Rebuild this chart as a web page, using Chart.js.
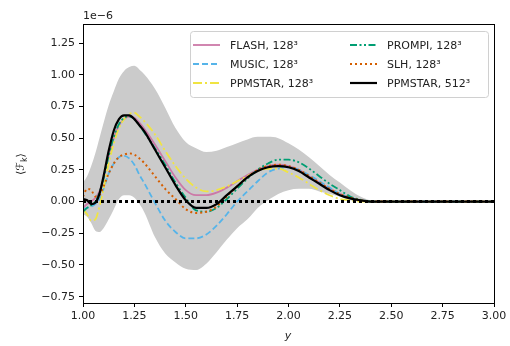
<!DOCTYPE html>
<html>
<head>
<meta charset="utf-8">
<script src="https://cdn.jsdelivr.net/npm/chart.js@4.4.0/dist/chart.umd.min.js"></script>
<style>
  html, body { margin: 0; padding: 0; background: #fff; }
</style>
</head>
<body>
<canvas id="chart" width="510" height="346"></canvas>
<script>
// values in units of 1e-6
const xVals = [1.00, 1.02, 1.04, 1.06, 1.08, 1.10, 1.125, 1.15, 1.175, 1.20, 1.225, 1.25, 1.275, 1.30,
  1.35, 1.40, 1.45, 1.50, 1.55, 1.60, 1.65, 1.70, 1.75, 1.80, 1.85, 1.90, 1.95, 2.00, 2.05, 2.10,
  2.15, 2.20, 2.25, 2.30, 2.35, 2.40, 2.50, 2.75, 3.00];

const flash128 = [-0.05, -0.02, 0.00, 0.03, 0.08, 0.18, 0.36, 0.50, 0.60, 0.65, 0.67, 0.66, 0.62, 0.57,
  0.45, 0.32, 0.19, 0.09, 0.05, 0.05, 0.07, 0.11, 0.16, 0.21, 0.25, 0.28, 0.29, 0.28, 0.25, 0.20,
  0.15, 0.10, 0.06, 0.03, 0.01, 0, 0, 0, 0];
const music128 = [-0.06, -0.05, -0.04, -0.02, 0.02, 0.10, 0.22, 0.30, 0.35, 0.36, 0.34, 0.29, 0.21, 0.14,
  -0.01, -0.15, -0.24, -0.29, -0.29, -0.26, -0.19, -0.10, 0.00, 0.08, 0.16, 0.23, 0.26, 0.27, 0.25, 0.21,
  0.16, 0.11, 0.06, 0.03, 0.01, 0, 0, 0, 0];
const ppmstar128 = [-0.06, -0.10, -0.15, -0.14, -0.04, 0.10, 0.30, 0.46, 0.58, 0.65, 0.69, 0.70, 0.67, 0.63,
  0.53, 0.40, 0.28, 0.18, 0.11, 0.08, 0.09, 0.12, 0.16, 0.20, 0.24, 0.26, 0.26, 0.23, 0.19, 0.14,
  0.09, 0.05, 0.02, 0.01, 0, 0, 0, 0, 0];
const prompi128 = [-0.08, -0.05, -0.03, 0.00, 0.07, 0.18, 0.36, 0.51, 0.61, 0.66, 0.67, 0.65, 0.60, 0.54,
  0.42, 0.29, 0.15, 0.03, -0.07, -0.08, -0.05, 0.02, 0.10, 0.18, 0.25, 0.30, 0.33, 0.33, 0.31, 0.26,
  0.20, 0.14, 0.09, 0.04, 0.015, 0, 0, 0, 0];
const slh128 = [0.04, 0.10, 0.09, 0.04, 0.05, 0.12, 0.22, 0.30, 0.35, 0.37, 0.38, 0.37, 0.34, 0.30,
  0.20, 0.10, 0.02, -0.06, -0.09, -0.08, -0.04, 0.04, 0.12, 0.19, 0.25, 0.28, 0.29, 0.28, 0.25, 0.20,
  0.15, 0.10, 0.06, 0.03, 0.01, 0, 0, 0, 0];
const ppmstar512 = [0.02, 0.01, -0.02, -0.01, 0.06, 0.20, 0.40, 0.56, 0.65, 0.68, 0.68, 0.65, 0.60, 0.55,
  0.41, 0.27, 0.13, 0.01, -0.05, -0.05, -0.02, 0.05, 0.12, 0.19, 0.24, 0.27, 0.28, 0.27, 0.24, 0.19,
  0.14, 0.09, 0.05, 0.025, 0.01, 0, 0, 0, 0];
const bandUpper = [0.15, 0.20, 0.28, 0.38, 0.50, 0.62, 0.76, 0.87, 0.97, 1.03, 1.06, 1.07, 1.04, 1.00,
  0.89, 0.74, 0.58, 0.47, 0.42, 0.39, 0.40, 0.43, 0.46, 0.49, 0.51, 0.51, 0.50, 0.46, 0.41, 0.35,
  0.28, 0.21, 0.15, 0.09, 0.04, 0.01, 0, 0, 0];
const bandLower = [-0.10, -0.12, -0.17, -0.23, -0.24, -0.21, -0.14, -0.06, 0.02, 0.05, 0.05, 0.03, -0.02, -0.09,
  -0.28, -0.41, -0.48, -0.53, -0.54, -0.49, -0.40, -0.30, -0.21, -0.14, -0.05, 0.01, 0.06, 0.09, 0.10, 0.10,
  0.08, 0.06, 0.04, 0.01, 0, 0, 0, 0, 0];

const xTicks = [1.00, 1.25, 1.50, 1.75, 2.00, 2.25, 2.50, 2.75, 3.00];
const yTicks = [-0.75, -0.50, -0.25, 0.00, 0.25, 0.50, 0.75, 1.00, 1.25];

const FONT = "'DejaVu Sans', sans-serif";
const TXT = "#222";

function pts(ys) {
  return xVals.map((x, i) => ({ x: x, y: ys[i] }));
}

function line(label, ys, color, dash, width, order) {
  return {
    label: label, data: pts(ys), borderColor: color, borderDash: dash, borderWidth: width,
    pointRadius: 0, fill: false, cubicInterpolationMode: "monotone", order: order
  };
}

const datasets = [
  {
    label: "band", data: pts(bandUpper), borderWidth: 0, pointRadius: 0,
    backgroundColor: "#cbcbcb", fill: "+1", cubicInterpolationMode: "monotone", order: 20
  },
  {
    label: "bandLow", data: pts(bandLower), borderWidth: 0, pointRadius: 0,
    fill: false, cubicInterpolationMode: "monotone", order: 21
  },
  line("FLASH, 128³", flash128, "#CC79A7", [], 1.8, 8),
  line("MUSIC, 128³", music128, "#56B4E9", [6, 3], 1.8, 7),
  line("PPMSTAR, 128³", ppmstar128, "#F0E442", [9, 3, 2, 3], 1.8, 6),
  line("PROMPI, 128³", prompi128, "#009E73", [7, 2.5, 2, 2.5, 2, 2.5], 1.8, 5),
  line("SLH, 128³", slh128, "#D55E00", [2, 3], 2, 4),
  line("PPMSTAR, 512³", ppmstar512, "#000000", [], 2.2, 2),
  {
    label: "zero", data: [{ x: 1, y: 0 }, { x: 3, y: 0 }], borderColor: "#000", borderDash: [3, 3],
    borderWidth: 3, pointRadius: 0, fill: false, order: 1
  }
];

const legendPos = [[193, 45], [193, 64], [193, 83], [350, 45], [350, 64], [350, 83]];

const decorations = {
  id: "decorations",
  afterDraw(chart) {
    const ctx = chart.ctx;
    const a = chart.chartArea;
    ctx.save();
    // frame
    ctx.strokeStyle = "#000";
    ctx.lineWidth = 1;
    ctx.strokeRect(Math.round(a.left) + 0.5, Math.round(a.top) + 0.5,
      Math.round(a.right - a.left), Math.round(a.bottom - a.top));

    // offset text
    ctx.fillStyle = TXT;
    ctx.font = "11px " + FONT;
    ctx.textAlign = "left";
    ctx.textBaseline = "alphabetic";
    ctx.fillText("1e\u22126", 83, 19);

    // x label
    ctx.font = "italic 11px " + FONT;
    ctx.textAlign = "center";
    ctx.fillText("y", 288, 339);

    // y label
    ctx.translate(24, 163);
    ctx.rotate(-Math.PI / 2);
    ctx.font = "11px " + FONT;
    ctx.textAlign = "left";
    const w1 = ctx.measureText("\u27E8\u2131").width;
    ctx.fillText("\u27E8\u2131", -12, 0);
    ctx.font = "8px " + FONT;
    ctx.fillText("k", -12 + w1, 3);
    const wk = ctx.measureText("k").width;
    ctx.font = "11px " + FONT;
    ctx.fillText("\u27E9", -12 + w1 + wk, 0);
    ctx.setTransform(1, 0, 0, 1, 0, 0);

    // legend
    ctx.fillStyle = "rgba(255,255,255,0.85)";
    ctx.strokeStyle = "#d0d0d0";
    ctx.lineWidth = 1;
    ctx.beginPath();
    ctx.roundRect(190.5, 31.5, 298, 66, 3);
    ctx.fill();
    ctx.stroke();
    const items = datasets.slice(2, 8);
    items.forEach((d, i) => {
      const [lx, ly] = legendPos[i];
      ctx.strokeStyle = d.borderColor;
      ctx.lineWidth = d.borderWidth;
      ctx.setLineDash(d.borderDash);
      ctx.beginPath();
      ctx.moveTo(lx, ly);
      ctx.lineTo(lx + 27, ly);
      ctx.stroke();
      ctx.setLineDash([]);
      ctx.fillStyle = TXT;
      ctx.font = "11px " + FONT;
      ctx.textAlign = "left";
      ctx.textBaseline = "middle";
      ctx.fillText(d.label, lx + 37, ly + 1);
    });
    ctx.restore();
  }
};

new Chart(document.getElementById("chart"), {
  type: "line",
  data: { datasets: datasets },
  options: {
    responsive: false,
    animation: false,
    devicePixelRatio: 1,
    layout: { padding: { top: 24, right: 16, left: 0, bottom: 0 } },
    plugins: { legend: { display: false }, tooltip: { enabled: false } },
    scales: {
      x: {
        type: "linear", min: 1, max: 3,
        afterBuildTicks: s => { s.ticks = xTicks.map(v => ({ value: v })); },
        afterFit: s => { s.height = 43; },
        ticks: {
          color: TXT, font: { family: FONT, size: 11 }, padding: 3, maxRotation: 0,
          callback: v => v.toFixed(2)
        },
        grid: { drawOnChartArea: false, drawTicks: true, tickLength: 4, color: "#000" },
        border: { display: true, color: "#000", width: 1 }
      },
      y: {
        type: "linear", min: -0.8, max: 1.4,
        afterBuildTicks: s => { s.ticks = yTicks.map(v => ({ value: v })); },
        afterFit: s => { s.width = 83; },
        ticks: {
          color: TXT, font: { family: FONT, size: 11 }, padding: 4,
          callback: v => (v < 0 ? "\u2212" + Math.abs(v).toFixed(2) : v.toFixed(2))
        },
        grid: { drawOnChartArea: false, drawTicks: true, tickLength: 4, color: "#000" },
        border: { display: true, color: "#000", width: 1 }
      }
    }
  },
  plugins: [decorations]
});
</script>
</body>
</html>
